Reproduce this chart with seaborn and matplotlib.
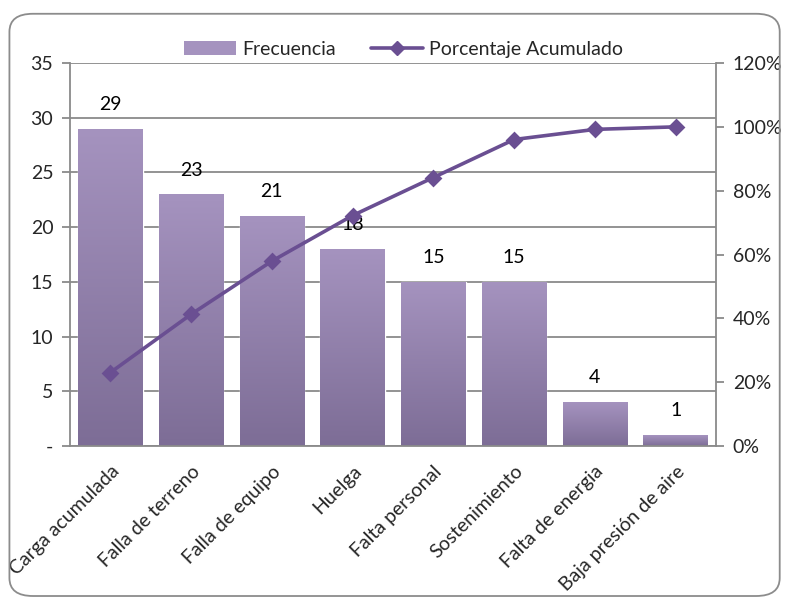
import numpy as np
import pandas as pd
import matplotlib.pyplot as plt
import seaborn as sns
from matplotlib.patches import Patch, FancyBboxPatch
from matplotlib.lines import Line2D
from matplotlib.ticker import FixedLocator, PercentFormatter
from matplotlib.colors import LinearSegmentedColormap

categories = ["Carga acumulada", "Falla de terreno", "Falla de equipo", "Huelga",
              "Falta personal", "Sostenimiento", "Falta de energia", "Baja presión de aire"]
frecuencia = [29, 23, 21, 18, 15, 15, 4, 1]
left_ticks = [0, 5, 10, 15, 20, 25, 30, 35]
left_labels = ["-", "5", "10", "15", "20", "25", "30", "35"]
right_ticks = [0, 0.2, 0.4, 0.6, 0.8, 1.0, 1.2]

df = pd.DataFrame({"causa": categories, "frecuencia": frecuencia})
df["acumulado"] = df["frecuencia"].cumsum() / df["frecuencia"].sum()

sns.set_style("white")
plt.rcParams["font.family"] = ["Lato", "DejaVu Sans"]

bar_top = "#a593bf"
bar_bottom = "#7d6d96"
line_color = "#6a4f92"
grid_color = "#8a8a8a"
fs = 14

fig = plt.figure(figsize=(7.86, 5.99), dpi=100)
ax = fig.add_axes([0.089, 0.2554, 0.822, 0.6394])

sns.barplot(data=df, x="causa", y="frecuencia", color=bar_top, width=0.8,
            ax=ax, zorder=2, saturation=1)

# vertical gradient for each bar
cmap = LinearSegmentedColormap.from_list("grad", [bar_bottom, bar_top])
grad = np.linspace(0, 1, 256).reshape(-1, 1)
for p in ax.patches:
    x0, y0 = p.get_x(), p.get_y()
    w, h = p.get_width(), p.get_height()
    im = ax.imshow(grad, cmap=cmap, aspect="auto", origin="lower",
                   extent=[x0, x0 + w, y0, y0 + h], zorder=2.1)
    im.set_clip_path(p)

for i, v in enumerate(df["frecuencia"]):
    ax.annotate(str(v), (i, v), xytext=(0, 17.5), textcoords="offset points",
                ha="center", va="center", fontsize=fs, color="black")

ax.set_ylim(0, 35)
ax.set_xlim(-0.5, len(categories) - 0.5)
ax.yaxis.set_major_locator(FixedLocator(left_ticks))
ax.set_yticklabels(left_labels, fontsize=fs)
ax.grid(axis="y", color=grid_color, linewidth=1.3, zorder=0)
ax.set_axisbelow(True)
ax.set_xlabel("")
ax.set_ylabel("")
ax.set_xticks(np.arange(len(categories)))
ax.set_xticklabels(categories, rotation=45, ha="right", rotation_mode="anchor",
                   fontsize=fs)
ax.tick_params(axis="x", length=0, pad=12)
ax.set_xticks(np.arange(len(categories) + 1) - 0.5, minor=True)
ax.tick_params(axis="x", which="minor", length=6, color=grid_color, width=1.3)
ax.tick_params(axis="y", length=6, color=grid_color, width=1.3, left=True, pad=6)
for s in ["left", "bottom", "right"]:
    ax.spines[s].set_color(grid_color)
    ax.spines[s].set_linewidth(1.3)
ax.spines["top"].set_visible(False)

ax2 = ax.twinx()
sns.pointplot(data=df, x="causa", y="acumulado", color=line_color, markers="D",
              ax=ax2, linewidth=2.6, markersize=7)
ax2.set_xlim(-0.5, len(categories) - 0.5)
ax2.set_ylim(0, 1.2)
ax2.yaxis.set_major_locator(FixedLocator(right_ticks))
ax2.yaxis.set_major_formatter(PercentFormatter(1.0, decimals=0))
ax2.tick_params(axis="y", length=6, color=grid_color, width=1.3, right=True,
                labelsize=fs, pad=6)
ax2.set_ylabel("")
ax2.set_xlabel("")
for s in ["left", "bottom", "right", "top"]:
    ax2.spines[s].set_visible(False)

handles = [Patch(facecolor=bar_top, edgecolor="none"),
           Line2D([0], [0], color=line_color, lw=2.6, marker="D", markersize=7)]
fig.legend(handles, ["Frecuencia", "Porcentaje Acumulado"], loc="center",
           bbox_to_anchor=(0.513, 0.918), ncol=2, frameon=False, fontsize=fs,
           handlelength=2.7, handletextpad=0.3, columnspacing=1.8)

border = FancyBboxPatch((0.012, 0.005), 0.98, 0.972, boxstyle="round,pad=0,rounding_size=0.03",
                        transform=fig.transFigure, facecolor="none",
                        edgecolor="#8c8c8c", linewidth=1.3)
fig.patches.append(border)

fig.savefig("out.png", dpi=100)
